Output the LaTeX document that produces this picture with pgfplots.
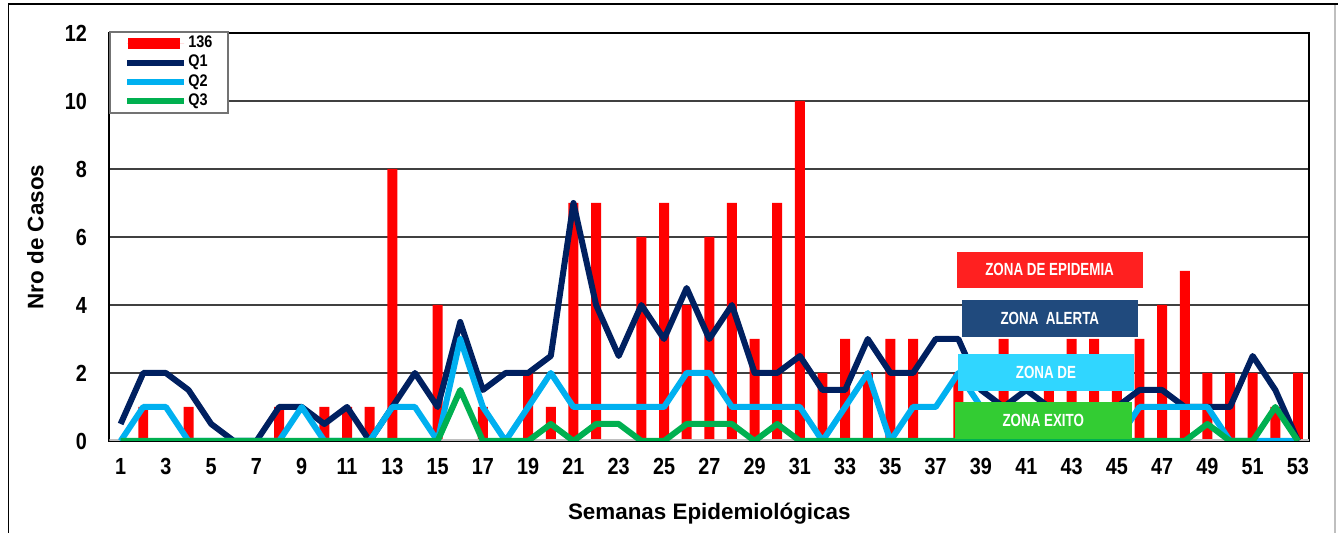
\documentclass[border=0pt]{standalone}
\usepackage{pgfplots}
\pgfplotsset{compat=1.18}
\usepackage{fontspec}
\setmainfont{Liberation Sans}
\newfontfamily\tickfont{Liberation Sans}[FakeStretch=0.85]
\newfontfamily\zonefont{Liberation Sans}[FakeStretch=0.76]
\newfontfamily\legfont{Liberation Sans}[FakeStretch=0.86]
\definecolor{barred}{RGB}{255,0,0}
\definecolor{qone}{RGB}{0,32,96}
\definecolor{qtwo}{RGB}{0,176,240}
\definecolor{qthree}{RGB}{0,176,80}
\definecolor{zepi}{RGB}{255,32,32}
\definecolor{zale}{RGB}{32,74,125}
\definecolor{zde}{RGB}{48,214,255}
\definecolor{zexi}{RGB}{51,204,51}
\begin{document}
\begin{tikzpicture}
\useasboundingbox (0,0) rectangle (669pt,266.5pt);
\draw[black, line width=0.75pt] (4.15pt,0) -- (4.15pt,264.5pt) -- (669pt,264.5pt);
\draw[black!25, line width=0.75pt] (667.5pt,0) -- (667.5pt,264pt);
\begin{axis}[
  at={(54.65pt,46pt)}, anchor=south west,
  scale only axis, width=600pt, height=204pt,
  xmin=0.5, xmax=53.5, ymin=0, ymax=12,
  xtick={1,3,...,53}, ytick={0,2,...,12},
  major tick length=0pt,
  ymajorgrids, major grid style={black!75, line width=0.7pt},
  axis line style={black, line width=1pt},
  /pgf/number format/assume math mode=true,
  ticklabel style={font=\tickfont\bfseries\fontsize{11.65}{13}\selectfont},
  yticklabel style={anchor=east, xshift=-7.7pt},
  xticklabel style={anchor=north, yshift=-5pt},
  every axis x label/.style={at={(axis description cs:0.5,-0.193)}, anchor=base, font=\bfseries\fontsize{11.2}{13}\selectfont},
  every axis y label/.style={at={(axis description cs:-0.055,0.5)}, rotate=90, anchor=base, font=\bfseries\fontsize{11.2}{13}\selectfont},
  xlabel={Semanas Epidemiológicas},
  ylabel={Nro de Casos},
  legend style={at={(axis description cs:0,1)}, anchor=north west, yshift=1pt,
    draw=black!55, line width=0.9pt, fill=white, inner xsep=7pt, inner ysep=1pt,
    row sep=0pt, font=\legfont\bfseries\fontsize{8.4}{9.5}\selectfont,
    nodes={inner sep=0.6pt, text height=6.3pt, text depth=2.1pt}},
  legend cell align=left,
]
\addplot[ybar, bar width=0.44, fill=barred, draw=none,
  legend image code/.code={\fill[barred] (0.5pt,-2.75pt) rectangle (26.5pt,2.75pt); \path (0pt,0pt) -- (28.5pt,0pt);}]
coordinates {
(1,0) (2,1) (3,0) (4,1) (5,0) (6,0) (7,0) (8,1) (9,0) (10,1)
(11,1) (12,1) (13,8) (14,0) (15,4) (16,0) (17,1) (18,0) (19,2) (20,1)
(21,7) (22,7) (23,0) (24,6) (25,7) (26,4) (27,6) (28,7) (29,3) (30,7)
(31,10) (32,2) (33,3) (34,2) (35,3) (36,3) (37,0) (38,2) (39,0) (40,3)
(41,0) (42,2) (43,3) (44,3) (45,2) (46,3) (47,4) (48,5) (49,2) (50,2)
(51,2) (52,1) (53,2)};
\addlegendentry{136}
\addplot[black!25, line width=1.5pt, forget plot] coordinates {(0.5,0) (53.5,0)};
\addplot[qone, line width=3pt, line join=round, mark=none,
  legend image code/.code={\draw[qone, line width=3pt, line cap=round] (1.5pt,0pt) -- (26.5pt,0pt); \path (0pt,0pt) -- (28.5pt,0pt);}]
coordinates {
(1,0.5) (2,2) (3,2) (4,1.5) (5,0.5) (6,0) (7,0) (8,1) (9,1) (10,0.5)
(11,1) (12,0) (13,1) (14,2) (15,1) (16,3.5) (17,1.5) (18,2) (19,2) (20,2.5)
(21,7) (22,4) (23,2.5) (24,4) (25,3) (26,4.5) (27,3) (28,4) (29,2) (30,2)
(31,2.5) (32,1.5) (33,1.5) (34,3) (35,2) (36,2) (37,3) (38,3) (39,1.5) (40,1)
(41,1.5) (42,1) (43,1) (44,1) (45,1) (46,1.5) (47,1.5) (48,1) (49,1) (50,1)
(51,2.5) (52,1.5) (53,0)};
\addlegendentry{Q1}
\addplot[qtwo, line width=3pt, line join=round, mark=none,
  legend image code/.code={\draw[qtwo, line width=3pt, line cap=round] (1.5pt,0pt) -- (26.5pt,0pt); \path (0pt,0pt) -- (28.5pt,0pt);}]
coordinates {
(1,0) (2,1) (3,1) (4,0) (5,0) (6,0) (7,0) (8,0) (9,1) (10,0)
(11,0) (12,0) (13,1) (14,1) (15,0) (16,3) (17,1) (18,0) (19,1) (20,2)
(21,1) (22,1) (23,1) (24,1) (25,1) (26,2) (27,2) (28,1) (29,1) (30,1)
(31,1) (32,0) (33,1) (34,2) (35,0) (36,1) (37,1) (38,2) (39,1) (40,1)
(41,1) (42,1) (43,1) (44,1) (45,0) (46,1) (47,1) (48,1) (49,1) (50,0)
(51,0) (52,0) (53,0)};
\addlegendentry{Q2}
\addplot[qthree, line width=3pt, line join=round, mark=none,
  legend image code/.code={\draw[qthree, line width=3pt, line cap=round] (1.5pt,0pt) -- (26.5pt,0pt); \path (0pt,0pt) -- (28.5pt,0pt);}]
coordinates {
(1,0) (2,0) (3,0) (4,0) (5,0) (6,0) (7,0) (8,0) (9,0) (10,0)
(11,0) (12,0) (13,0) (14,0) (15,0) (16,1.5) (17,0) (18,0) (19,0) (20,0.5)
(21,0) (22,0.5) (23,0.5) (24,0) (25,0) (26,0.5) (27,0.5) (28,0.5) (29,0) (30,0.5)
(31,0) (32,0) (33,0) (34,0) (35,0) (36,0) (37,0) (38,0) (39,0) (40,0)
(41,0) (42,0) (43,0) (44,0) (45,0) (46,0) (47,0) (48,0) (49,0.5) (50,0)
(51,0) (52,1) (53,0)};
\addlegendentry{Q3}
\fill[zepi] (axis cs:37.93,4.51) rectangle (axis cs:46.14,5.57);
\node[white, font=\zonefont\bfseries\fontsize{8.8}{10}\selectfont] at (axis cs:42.03,5.04) {ZONA DE EPIDEMIA};
\fill[zale] (axis cs:38.16,3.07) rectangle (axis cs:45.92,4.15);
\node[white, font=\zonefont\bfseries\fontsize{8.8}{10}\selectfont] at (axis cs:42.04,3.61) {ZONA~ ALERTA};
\fill[zde] (axis cs:37.98,1.48) rectangle (axis cs:45.77,2.56);
\node[white, font=\zonefont\bfseries\fontsize{8.8}{10}\selectfont] at (axis cs:41.87,2.02) {ZONA DE};
\fill[zexi] (axis cs:37.85,0.05) rectangle (axis cs:45.65,1.16);
\node[white, font=\zonefont\bfseries\fontsize{8.8}{10}\selectfont] at (axis cs:41.75,0.6) {ZONA EXITO};
\end{axis}
\end{tikzpicture}
\end{document}
